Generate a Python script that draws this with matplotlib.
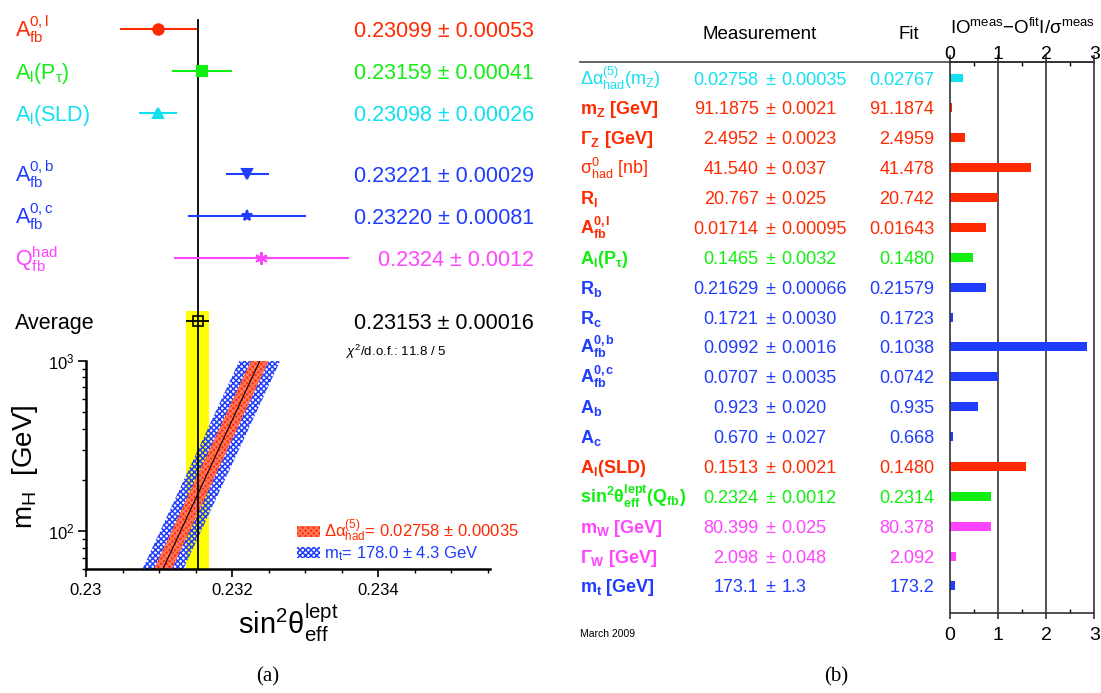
import matplotlib
matplotlib.use('Agg')
import matplotlib.pyplot as plt
import matplotlib.transforms as mtransforms
from matplotlib.patches import Patch
from matplotlib.ticker import FixedLocator, FixedFormatter, MultipleLocator, NullFormatter, LogLocator
import numpy as np

plt.rcParams['font.family'] = ['Liberation Sans', 'DejaVu Sans']
plt.rcParams['mathtext.fontset'] = 'custom'
plt.rcParams['mathtext.rm'] = 'Liberation Sans'
plt.rcParams['mathtext.it'] = 'Liberation Sans:italic'
plt.rcParams['mathtext.bf'] = 'Liberation Sans:bold'
plt.rcParams['mathtext.sf'] = 'Liberation Sans'
plt.rcParams['hatch.linewidth'] = 1.1

RED = '#ff2a00'
GREEN = '#11ee11'
CYAN = '#11e0f0'
BLUE = '#1f3cff'
MAGENTA = '#ff44ff'

# ---------------- data: panel (a) ----------------
sin2_labels = [r'$\mathrm{A_{fb}^{0,l}}$', r'$\mathrm{A_l(P_\tau)}$', r'$\mathrm{A_l(SLD)}$',
               r'$\mathrm{A_{fb}^{0,b}}$', r'$\mathrm{A_{fb}^{0,c}}$', r'$\mathrm{Q_{fb}^{had}}$']
sin2_values = [0.23099, 0.23159, 0.23098, 0.23221, 0.23220, 0.2324]
sin2_errors = [0.00053, 0.00041, 0.00026, 0.00029, 0.00081, 0.0012]
sin2_decimals = [5, 5, 5, 5, 5, 4]
sin2_colors = [RED, GREEN, CYAN, BLUE, BLUE, MAGENTA]
sin2_markers = ['o', 's', '^', 'v', '*', (6, 2, 0)]
sin2_msizes = [7.5, 7, 7, 7.5, 8, 9]
avg_value = 0.23153
avg_error = 0.00016
chi2_text = r'$\chi^2$/d.o.f.: 11.8 / 5'

# SM prediction band (m_H vs sin2theta)
band_mh = [60, 100, 200, 500, 1000]
band_center = [0.231053, 0.231294, 0.231620, 0.232051, 0.232378]
band_dalpha_half = 0.00012
band_mt_half = 0.00028
legend_labels = [r'$\mathrm{\Delta\alpha^{(5)}_{had}}$= 0.02758 ± 0.00035', r'$\mathrm{m_t}$= 178.0 ± 4.3 GeV']

# ---------------- data: panel (b) ----------------
obs_labels = [r'$\mathrm{\Delta\alpha^{(5)}_{had}(m_Z)}$', r'$\mathbf{m_Z\ [GeV]}$', r'$\mathbf{\Gamma_Z\ [GeV]}$',
              r'$\mathrm{\sigma^0_{had}\ [nb]}$', r'$\mathbf{R_l}$', r'$\mathbf{A_{fb}^{0,l}}$',
              r'$\mathbf{A_l(P_\tau)}$', r'$\mathbf{R_b}$', r'$\mathbf{R_c}$', r'$\mathbf{A_{fb}^{0,b}}$',
              r'$\mathbf{A_{fb}^{0,c}}$', r'$\mathbf{A_b}$', r'$\mathbf{A_c}$', r'$\mathbf{A_l(SLD)}$',
              r'$\mathbf{sin^2\theta^{lept}_{eff}(Q_{fb})}$', r'$\mathbf{m_W\ [GeV]}$',
              r'$\mathbf{\Gamma_W\ [GeV]}$', r'$\mathbf{m_t\ [GeV]}$']
meas_values = ['0.02758', '91.1875', '2.4952', '41.540', '20.767', '0.01714', '0.1465', '0.21629',
               '0.1721', '0.0992', '0.0707', '0.923', '0.670', '0.1513', '0.2324', '80.399', '2.098', '173.1']
meas_errors = ['0.00035', '0.0021', '0.0023', '0.037', '0.025', '0.00095', '0.0032', '0.00066',
               '0.0030', '0.0016', '0.0035', '0.020', '0.027', '0.0021', '0.0012', '0.025', '0.048', '1.3']
fit_values = ['0.02767', '91.1874', '2.4959', '41.478', '20.742', '0.01643', '0.1480', '0.21579',
              '0.1723', '0.1038', '0.0742', '0.935', '0.668', '0.1480', '0.2314', '80.378', '2.092', '173.2']
pulls = [0.27, 0.04, 0.31, 1.68, 0.99, 0.74, 0.47, 0.75, 0.06, 2.86, 1.00, 0.58, 0.06, 1.59, 0.85, 0.86, 0.13, 0.10]
obs_colors = [CYAN, RED, RED, RED, RED, RED, GREEN, BLUE, BLUE, BLUE, BLUE, BLUE, BLUE, RED,
              GREEN, MAGENTA, MAGENTA, BLUE]
pull_ticks = [0, 1, 2, 3]

# ---------------- figure ----------------
W, H = 1101, 693
fig = plt.figure(figsize=(W / 100, H / 100), dpi=100)

XMIN, XMAX = 0.23, 0.23553

# top part of panel (a)
ax_top = fig.add_axes([86 / W, 1 - 361 / H, 404 / W, 361 / H])
ax_top.set_xlim(XMIN, XMAX)
row_slots = [0, 1, 2, 3.45, 4.45, 5.45]
avg_slot = 6.95
ax_top.set_ylim(7.905, -0.690)
ax_top.axis('off')

ax_top.axvspan(avg_value - avg_error, avg_value + avg_error, ymin=0, ymax=(361 - 311) / 361,
               color='#ffff00', lw=0, zorder=0)
ax_top.axvline(avg_value, ymin=0, ymax=1 - 20 / 361, color='black', lw=1.3, zorder=1)

for v, e, s, c, m, ms in zip(sin2_values, sin2_errors, row_slots, sin2_colors, sin2_markers, sin2_msizes):
    ax_top.errorbar([v], [s], xerr=[e], fmt='none', ecolor=c, elinewidth=1.5, capsize=0, zorder=2)
    ax_top.plot([v], [s], marker=m, ms=ms, color=c, mec=c, mew=1.5, ls='none', zorder=3)
ax_top.errorbar([avg_value], [avg_slot], xerr=[avg_error], fmt='none', ecolor='black',
                elinewidth=1.3, capsize=0, zorder=2)
ax_top.plot([avg_value], [avg_slot], marker='s', ms=7, mfc='none', mec='black', mew=1.2, zorder=3)

trans_l = mtransforms.offset_copy(
    mtransforms.blended_transform_factory(fig.transFigure, ax_top.transData),
    fig=fig, y=-5.5, units='points')
for lab, v, e, d, s, c in zip(sin2_labels, sin2_values, sin2_errors, sin2_decimals, row_slots, sin2_colors):
    ax_top.text(15 / W, s, lab, transform=trans_l, ha='left', va='baseline', color=c, fontsize=15.5)
    ax_top.text(534 / W, s, f'{v:.{d}f} ± {e:.{d}f}', transform=trans_l, ha='right',
                va='baseline', color=c, fontsize=15.5)
ax_top.text(15 / W, avg_slot, 'Average', transform=trans_l, ha='left', va='baseline', fontsize=15.5)
ax_top.text(534 / W, avg_slot, f'{avg_value:.5f} ± {avg_error:.5f}', transform=trans_l,
            ha='right', va='baseline', fontsize=15.5)
ax_top.text(0.23493, 7.69, chi2_text, ha='right', va='center', fontsize=9.5)

# bottom part of panel (a)
ax_bot = fig.add_axes([86 / W, 1 - 569 / H, 404 / W, 208 / H])
ax_bot.set_yscale('log')
ax_bot.set_xlim(XMIN, XMAX)
ax_bot.set_ylim(60, 1000)
ax_bot.axvspan(avg_value - avg_error, avg_value + avg_error, color='#ffff00', lw=0, zorder=0)
mh = np.array(band_mh, dtype=float)
cen = np.array(band_center)
ax_bot.fill_betweenx(mh, cen - band_mt_half, cen + band_mt_half, facecolor='none',
                     edgecolor=BLUE, hatch='xxxxxx', linewidth=0, zorder=1)
ax_bot.fill_betweenx(mh, cen - band_dalpha_half, cen + band_dalpha_half, facecolor='#ff3312',
                     edgecolor='#ff7a5c', hatch='xxxxxx', linewidth=0, zorder=2)
ax_bot.plot(cen, mh, color='black', lw=0.8, zorder=3)
ax_bot.axvline(avg_value, color='black', lw=1.3, zorder=4)

for side in ['top', 'right']:
    ax_bot.spines[side].set_visible(False)
for side in ['left', 'bottom']:
    ax_bot.spines[side].set_linewidth(1.8)
ax_bot.xaxis.set_major_locator(FixedLocator([0.230, 0.232, 0.234]))
ax_bot.xaxis.set_major_formatter(FixedFormatter(['0.23', '0.232', '0.234']))
ax_bot.xaxis.set_minor_locator(MultipleLocator(0.0005))
ax_bot.yaxis.set_major_locator(LogLocator(base=10, numticks=5))
ax_bot.yaxis.set_minor_locator(LogLocator(base=10, subs=np.arange(2, 10), numticks=10))
ax_bot.yaxis.set_minor_formatter(NullFormatter())
ax_bot.tick_params(axis='both', which='major', direction='out', length=6, width=1.2, labelsize=12)
ax_bot.tick_params(axis='both', which='minor', direction='out', length=3, width=1.0)
ax_bot.tick_params(axis='x', which='major', pad=4)
ax_bot.tick_params(axis='y', which='major', pad=2)
ax_bot.set_xlabel(r'$\mathrm{sin^2\theta^{lept}_{eff}}$', fontsize=21)
ax_bot.xaxis.set_label_coords(0.5, -0.155)
ax_bot.set_ylabel(r'$\mathrm{m_H\ \ [GeV]}$', fontsize=20)
ax_bot.yaxis.set_label_coords(-0.114, 0.49)

handles = [Patch(facecolor='#ff3312', edgecolor='#ff7a5c', hatch='xxxxxx', linewidth=0),
           Patch(facecolor='white', edgecolor=BLUE, hatch='xxxxxx', linewidth=0)]
leg = fig.legend(handles, legend_labels, loc='upper left', bbox_to_anchor=(297 / W, 1 - 518 / H),
                 frameon=False, fontsize=12, handlelength=1.4, handleheight=0.6,
                 handletextpad=0.25, labelspacing=0.0, borderpad=0, borderaxespad=0,
                 labelcolor=[RED, BLUE])

# ---------------- panel (b) ----------------
ROW0, ROWSTEP = 78, 29.88
ytop = (62 - ROW0) / ROWSTEP
ybot = (613 - ROW0) / ROWSTEP
rows = np.arange(len(obs_labels))

ax_tab = fig.add_axes([570 / W, 1 - 613 / H, 380 / W, 551 / H])
ax_tab.set_xlim(570, 950)
ax_tab.set_ylim(ybot, ytop)
ax_tab.axis('off')
ax_tab.axhline(ytop, xmin=10 / 380, xmax=1, color='#555555', lw=1.3, clip_on=False)

tt = mtransforms.offset_copy(ax_tab.transData, fig=fig, y=-4.7, units='points')
for i in rows:
    c = obs_colors[i]
    ax_tab.text(580, i, obs_labels[i], transform=tt, ha='left', va='baseline', color=c, fontsize=13)
    ax_tab.text(758.6, i, meas_values[i], transform=tt, ha='right', va='baseline', color=c, fontsize=13)
    ax_tab.text(770.5, i, '±', transform=tt, ha='center', va='baseline', color=c, fontsize=13)
    ax_tab.text(781.6, i, meas_errors[i], transform=tt, ha='left', va='baseline', color=c, fontsize=13)
    ax_tab.text(934, i, fit_values[i], transform=tt, ha='right', va='baseline', color=c, fontsize=13)
ax_tab.text(759.6, -1.47, 'Measurement', ha='center', va='center', fontsize=13.5)
ax_tab.text(908.6, -1.47, 'Fit', ha='center', va='center', fontsize=13.5)

ax_bar = fig.add_axes([950 / W, 1 - 613 / H, 144.2 / W, 551 / H])
ax_bar.set_xlim(0, 3)
ax_bar.set_ylim(ybot, ytop)
ax_bar.barh(rows, pulls, height=0.3, color=obs_colors, zorder=2)
for t in pull_ticks[1:-1]:
    ax_bar.axvline(t, color='#333333', lw=1.2, zorder=1)
for sp in ax_bar.spines.values():
    sp.set_color('#333333')
    sp.set_linewidth(1.2)
ax_bar.set_yticks([])
ax_bar.xaxis.set_major_locator(FixedLocator(pull_ticks))
ax_bar.xaxis.set_minor_locator(MultipleLocator(0.5))
ax_bar.tick_params(axis='x', which='major', direction='out', length=4, width=1.2,
                   top=False, labeltop=False, bottom=True, labelbottom=True, labelsize=14,
                   color='#333333', pad=6)
ax_bar.tick_params(axis='x', which='minor', direction='in', length=3, width=1.0, top=True, bottom=True)

sec = ax_bar.secondary_xaxis('top')
sec.xaxis.set_major_locator(FixedLocator(pull_ticks))
sec.xaxis.set_minor_locator(MultipleLocator(0.5))
sec.tick_params(axis='x', which='major', direction='out', length=5, width=1.2, labelsize=14,
                color='#333333', pad=-5.5)
sec.tick_params(axis='x', which='minor', length=0)
sec.spines['top'].set_color('#333333')
sec.spines['top'].set_linewidth(1.2)

fig.text(1022 / W, 1 - 28 / H, r'$\mathrm{IO^{meas}{-}O^{fit}I/\sigma^{meas}}$', ha='center',
         va='center', fontsize=13.5)
fig.text(580 / W, 1 - 634 / H, 'March 2009', ha='left', va='center', fontsize=7.5)

fig.text(268 / W, 1 - 677 / H, '(a)', ha='center', va='center', fontsize=15, family='Liberation Serif')
fig.text(836 / W, 1 - 677 / H, '(b)', ha='center', va='center', fontsize=15, family='Liberation Serif')

fig.savefig('out.png', dpi=100)
